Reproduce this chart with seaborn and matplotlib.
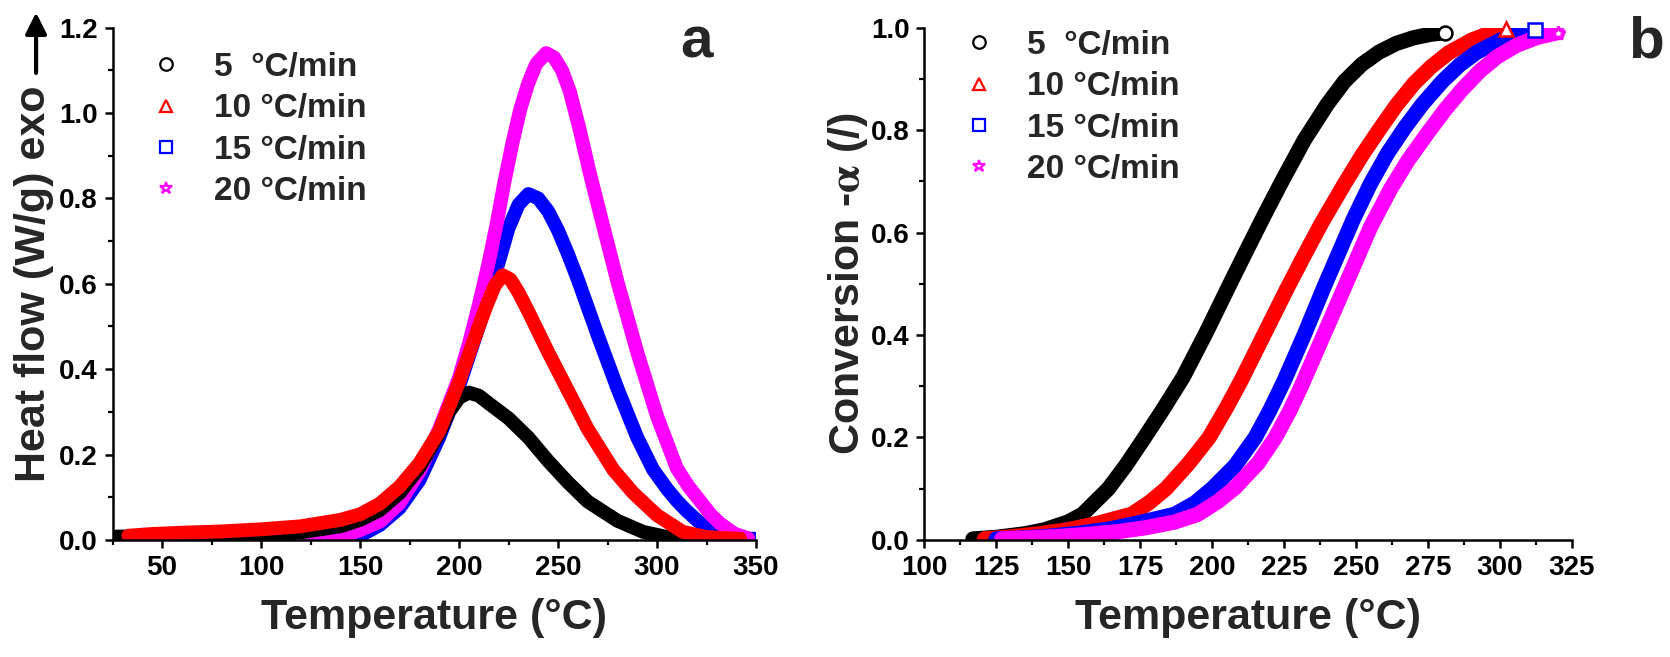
import numpy as np
import pandas as pd
import matplotlib
matplotlib.use("Agg")
import matplotlib.pyplot as plt
from matplotlib.lines import Line2D
from matplotlib.ticker import MultipleLocator, FormatStrFormatter
import seaborn as sns

# Datos
rates = ["5  °C/min", "10 °C/min", "15 °C/min", "20 °C/min"]
colores = ["black", "#FF0000", "#0000FF", "#FF00FF"]
marcadores = ["o", "^", "s", "*"]

# (a) flujo de calor (W/g) vs temperatura (°C)
t_a_5 = [27, 40, 60, 80, 100, 120, 140, 150, 160, 170, 180, 190, 195, 200, 205, 210,
         215, 225, 235, 245, 250, 255, 265, 280, 293, 305, 312]
hf_5 = [0.008, 0.008, 0.009, 0.011, 0.013, 0.018, 0.032, 0.047, 0.07, 0.11, 0.17, 0.25,
        0.30, 0.333, 0.345, 0.338, 0.32, 0.285, 0.24, 0.185, 0.16, 0.135, 0.09, 0.045,
        0.019, 0.007, 0.002]
t_a_10 = [33, 45, 60, 80, 100, 120, 140, 150, 160, 170, 180, 190, 200, 210, 214, 218,
          222, 226, 230, 235, 245, 255, 265, 278, 288, 300, 313, 325, 335, 342]
hf_10 = [0.01, 0.014, 0.017, 0.02, 0.025, 0.032, 0.047, 0.06, 0.085, 0.125, 0.18, 0.255,
         0.37, 0.5, 0.55, 0.595, 0.62, 0.61, 0.58, 0.535, 0.44, 0.35, 0.26, 0.164, 0.11,
         0.058, 0.019, 0.007, 0.004, 0.003]
t_a_15 = [45, 80, 120, 143, 150, 160, 170, 180, 190, 200, 210, 220, 225, 230, 235, 240,
          245, 250, 255, 260, 270, 280, 290, 298, 305, 310, 315, 320, 325, 330, 340, 349]
hf_15 = [0.003, 0.003, 0.003, 0.003, 0.01, 0.035, 0.075, 0.14, 0.24, 0.36, 0.5, 0.65,
         0.73, 0.785, 0.81, 0.80, 0.77, 0.725, 0.67, 0.61, 0.48, 0.355, 0.24, 0.165, 0.12,
         0.092, 0.068, 0.047, 0.028, 0.013, 0.004, 0.003]
t_a_20 = [38, 50, 70, 100, 130, 145, 150, 160, 170, 180, 190, 200, 205, 210, 215, 219,
          223, 227, 231, 235, 239, 244, 248, 252, 256, 261, 266, 272, 280, 290, 300, 310,
          316, 322, 327, 332, 339, 346]
hf_20 = [0.006, 0.01, 0.012, 0.012, 0.012, 0.015, 0.023, 0.043, 0.086, 0.16, 0.26, 0.38,
         0.46, 0.55, 0.65, 0.74, 0.84, 0.93, 1.01, 1.07, 1.115, 1.14, 1.13, 1.10, 1.05,
         0.96, 0.86, 0.75, 0.605, 0.44, 0.29, 0.168, 0.125, 0.09, 0.06, 0.038, 0.015, 0.004]

# (b) conversion alfa vs temperatura (°C)
t_b_5 = [117, 125, 135, 142, 150, 155, 164, 170, 176, 183, 190, 198, 206, 212, 218, 224,
         232, 240, 246, 252, 258, 264, 270, 276, 281]
alfa_5 = [0.002, 0.005, 0.012, 0.02, 0.035, 0.05, 0.1, 0.145, 0.195, 0.255, 0.318, 0.405,
          0.497, 0.565, 0.632, 0.697, 0.78, 0.85, 0.895, 0.928, 0.952, 0.969, 0.98, 0.987,
          0.99]
t_b_10 = [121, 130, 140, 150, 160, 172, 178, 184, 192, 199, 205, 210, 218, 226, 232, 238,
          246, 252, 258, 264, 270, 276, 282, 290, 296, 302]
alfa_10 = [0.002, 0.006, 0.012, 0.02, 0.032, 0.05, 0.072, 0.1, 0.15, 0.2, 0.258, 0.31,
           0.4, 0.49, 0.555, 0.618, 0.695, 0.75, 0.8, 0.848, 0.89, 0.923, 0.95, 0.975,
           0.988, 0.997]
t_b_15 = [125, 135, 145, 155, 165, 175, 181, 187, 194, 200, 208, 215, 220, 225, 232, 239,
          244, 249, 255, 261, 267, 273, 280, 286, 292, 300, 306, 312]
alfa_15 = [0.002, 0.004, 0.008, 0.014, 0.022, 0.034, 0.042, 0.05, 0.072, 0.1, 0.145, 0.2,
           0.252, 0.31, 0.4, 0.495, 0.56, 0.625, 0.695, 0.755, 0.805, 0.85, 0.895, 0.927,
           0.952, 0.975, 0.988, 0.995]
t_b_20 = [127, 137, 147, 157, 167, 177, 187, 195, 202, 208, 216, 222, 227, 231, 238, 245,
          250, 255, 262, 268, 275, 281, 287, 293, 299, 306, 313, 320]
alfa_20 = [0.002, 0.004, 0.007, 0.011, 0.016, 0.024, 0.035, 0.05, 0.075, 0.102, 0.15, 0.2,
           0.252, 0.3, 0.39, 0.48, 0.545, 0.61, 0.685, 0.74, 0.795, 0.84, 0.88, 0.915,
           0.943, 0.966, 0.981, 0.99]

curvas_a = [(t_a_5, hf_5), (t_a_10, hf_10), (t_a_15, hf_15), (t_a_20, hf_20)]
curvas_b = [(t_b_5, alfa_5), (t_b_10, alfa_10), (t_b_15, alfa_15), (t_b_20, alfa_20)]

# Estilo
sns.set_style("ticks")
plt.rcParams["font.family"] = ["Liberation Sans", "DejaVu Sans"]
plt.rcParams["font.weight"] = "bold"
plt.rcParams["axes.labelweight"] = "bold"
plt.rcParams["mathtext.fontset"] = "stix"
plt.rcParams["axes.linewidth"] = 1.8
plt.rcParams["xtick.direction"] = "out"
plt.rcParams["ytick.direction"] = "out"

fig = plt.figure(figsize=(16.7, 6.57), dpi=100)
ax_a = fig.add_axes([0.0674, 0.1781, 0.3853, 0.7800])
ax_b = fig.add_axes([0.5533, 0.1781, 0.3880, 0.7800])


def preparar_eje(ax, xlim, ylim, xmaj, xmin, ymaj, ymin):
    ax.set_xlim(*xlim)
    ax.set_ylim(*ylim)
    ax.xaxis.set_major_locator(MultipleLocator(xmaj))
    ax.xaxis.set_minor_locator(MultipleLocator(xmin))
    ax.yaxis.set_major_locator(MultipleLocator(ymaj))
    ax.yaxis.set_minor_locator(MultipleLocator(ymin))
    ax.yaxis.set_major_formatter(FormatStrFormatter("%.1f"))
    ax.tick_params(which="major", length=6, width=1.8, pad=4.5,
                   labelsize=20, colors="black")
    ax.tick_params(which="minor", length=3.5, width=1.6, colors="black")
    for lbl in ax.get_xticklabels() + ax.get_yticklabels():
        lbl.set_fontweight("bold")
    sns.despine(ax=ax)
    for s in ["left", "bottom"]:
        ax.spines[s].set_color("black")
        ax.spines[s].set_linewidth(1.8)


# Panel a: flujo de calor (orden de dibujo como en el original)
for i in [2, 3, 0, 1]:
    t, v = curvas_a[i]
    df = pd.DataFrame({"T": t, "v": v})
    sns.lineplot(data=df, x="T", y="v", color=colores[i], lw=10,
                 estimator=None, sort=False, ax=ax_a, solid_capstyle="round",
                 solid_joinstyle="round")

preparar_eje(ax_a, (25, 350), (0, 1.2), 50, 25, 0.2, 0.1)
ax_a.set_xlabel("Temperature (°C)", fontsize=31, fontweight="bold")
ax_a.set_ylabel("Heat flow (W/g) exo", fontsize=31, fontweight="bold")
ax_a.xaxis.set_label_coords(0.5, -0.113)
ax_a.yaxis.set_label_coords(-0.091, 0.5)
ax_a.annotate("", xy=(0.0216, 0.981), xytext=(0.0216, 0.889),
              xycoords="figure fraction", textcoords="figure fraction",
              arrowprops=dict(arrowstyle="-|>", lw=3, color="black",
                              mutation_scale=32, shrinkA=0, shrinkB=0))

# Panel b: conversion
for i in range(4):
    t, v = curvas_b[i]
    df = pd.DataFrame({"T": t, "v": v})
    sns.lineplot(data=df, x="T", y="v", color=colores[i], lw=11,
                 estimator=None, sort=False, ax=ax_b, solid_capstyle="round",
                 solid_joinstyle="round")
    ax_b.plot(t[-1], v[-1], marker=marcadores[i], ms=10, mfc="white",
              mec=colores[i], mew=1.8, clip_on=False, zorder=5)

preparar_eje(ax_b, (100, 325), (0, 1.0), 25, 12.5, 0.2, 0.1)
ax_b.set_xlabel("Temperature (°C)", fontsize=31, fontweight="bold")
ax_b.set_ylabel(r"Conversion -$\mathrm{\alpha}$ (/)", fontsize=31, fontweight="bold")
ax_b.xaxis.set_label_coords(0.5, -0.113)
ax_b.yaxis.set_label_coords(-0.083, 0.5)


# Leyendas
def leyenda(ax, anchor):
    handles = [Line2D([], [], ls="none", marker=m, ms=9, mfc="none", mec=c, mew=1.6)
               for m, c in zip(marcadores, colores)]
    leg = ax.legend(handles, rates, loc="upper left", bbox_to_anchor=anchor,
                    frameon=False, borderpad=0, borderaxespad=0, handlelength=1.0,
                    handletextpad=0.95, labelspacing=0.31,
                    prop={"size": 24, "weight": "bold"})
    return leg


leyenda(ax_a, (0.0567, 0.952))
leyenda(ax_b, (0.0586, 0.995))

fig.text(696 / 1670, 1 - 58 / 657, "a", fontsize=42, fontweight="bold",
         ha="center", va="baseline")
fig.text(1646 / 1670, 1 - 57 / 657, "b", fontsize=42, fontweight="bold",
         ha="center", va="baseline")

fig.savefig("out.png", dpi=100, facecolor="white")
